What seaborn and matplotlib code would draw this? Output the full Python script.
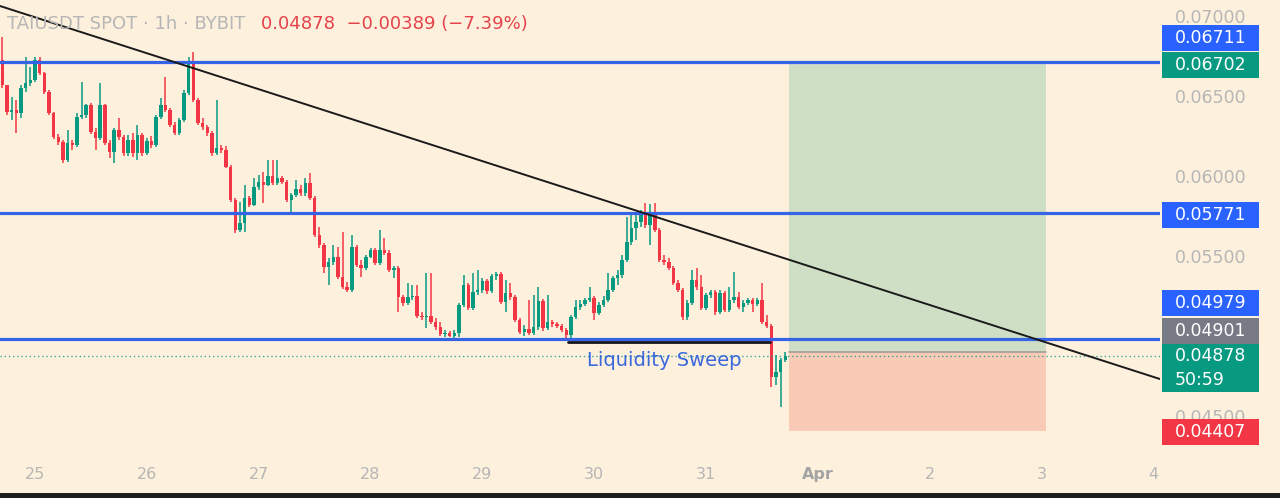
# Library Imports: numpy, pandas, matplotlib, seaborn
import numpy as np;
import pandas as pd;
import matplotlib;
matplotlib.use('Agg');
import matplotlib.pyplot as plt;
import seaborn as sns;
from matplotlib.patches import Rectangle;
# ////////////////////////////////////////////////////////////////////////////////////////////////

# ////////////////////////////////////////////////////////////////////////////////////////////////
# Data: TAIUSDT 1h candles. Hours are counted from Mar 25 00:00,
# first candle is Mar 24 17:00, open of each candle = close of the one before.
first_hour = -7;
first_open = 0.06725;

closes = [
    0.06569, 0.06400, 0.06412, 0.06394, 0.06550, 0.06581, 0.06600, 0.06725, 0.06644, 0.06525,
    0.06394, 0.06244, 0.06212, 0.06100, 0.06206, 0.06194, 0.06369, 0.06381, 0.06444, 0.06275,
    0.06238, 0.06444, 0.06206, 0.06150, 0.06288, 0.06244, 0.06144, 0.06225, 0.06144, 0.06256,
    0.06144, 0.06219, 0.06194, 0.06369, 0.06444, 0.06412, 0.06319, 0.06269, 0.06350, 0.06519,
    0.06712, 0.06475, 0.06331, 0.06306, 0.06269, 0.06144, 0.06175, 0.06162, 0.06056, 0.05850,
    0.05662, 0.05706, 0.05862, 0.05819, 0.05931, 0.05962, 0.05944, 0.06000, 0.05956, 0.05988,
    0.05962, 0.05850, 0.05881, 0.05919, 0.05894, 0.05956, 0.05862, 0.05631, 0.05569, 0.05431,
    0.05462, 0.05494, 0.05369, 0.05306, 0.05288, 0.05556, 0.05444, 0.05425, 0.05494, 0.05538,
    0.05456, 0.05538, 0.05519, 0.05412, 0.05425, 0.05244, 0.05206, 0.05244, 0.05250, 0.05125,
    0.05119, 0.05125, 0.05088, 0.05056, 0.05012, 0.05019, 0.05000, 0.05019, 0.05194, 0.05319,
    0.05175, 0.05275, 0.05288, 0.05344, 0.05281, 0.05375, 0.05388, 0.05212, 0.05269, 0.05244,
    0.05100, 0.05025, 0.05044, 0.05019, 0.05056, 0.05219, 0.05050, 0.05088, 0.05075, 0.05062,
    0.05038, 0.05006, 0.05119, 0.05181, 0.05200, 0.05225, 0.05238, 0.05144, 0.05194, 0.05225,
    0.05288, 0.05362, 0.05381, 0.05475, 0.05588, 0.05675, 0.05712, 0.05769, 0.05694, 0.05756,
    0.05662, 0.05475, 0.05462, 0.05425, 0.05331, 0.05288, 0.05119, 0.05206, 0.05350, 0.05306,
    0.05175, 0.05256, 0.05275, 0.05150, 0.05269, 0.05162, 0.05225, 0.05244, 0.05181, 0.05206,
    0.05225, 0.05200, 0.05225, 0.05088, 0.05062, 0.04744, 0.04775, 0.04850, 0.04878,
];

highs = [
    0.06869, 0.06569, 0.06494, 0.06475, 0.06569, 0.06744, 0.06681, 0.06744, 0.06744, 0.06650,
    0.06538, 0.06400, 0.06262, 0.06225, 0.06288, 0.06225, 0.06394, 0.06588, 0.06450, 0.06456,
    0.06300, 0.06581, 0.06450, 0.06225, 0.06300, 0.06362, 0.06256, 0.06256, 0.06269, 0.06319,
    0.06269, 0.06238, 0.06250, 0.06381, 0.06488, 0.06619, 0.06425, 0.06338, 0.06362, 0.06538,
    0.06744, 0.06775, 0.06488, 0.06362, 0.06319, 0.06281, 0.06475, 0.06194, 0.06188, 0.06069,
    0.05862, 0.05838, 0.05944, 0.05875, 0.05988, 0.06006, 0.06025, 0.06100, 0.06100, 0.06100,
    0.06000, 0.05975, 0.05894, 0.05975, 0.05944, 0.05988, 0.06019, 0.05875, 0.05681, 0.05581,
    0.05488, 0.05569, 0.05556, 0.05650, 0.05338, 0.05631, 0.05569, 0.05475, 0.05506, 0.05550,
    0.05550, 0.05662, 0.05612, 0.05538, 0.05438, 0.05438, 0.05256, 0.05331, 0.05319, 0.05319,
    0.05150, 0.05394, 0.05394, 0.05112, 0.05088, 0.05038, 0.05031, 0.05038, 0.05206, 0.05381,
    0.05331, 0.05394, 0.05412, 0.05362, 0.05356, 0.05388, 0.05400, 0.05400, 0.05350, 0.05331,
    0.05256, 0.05112, 0.05069, 0.05225, 0.05256, 0.05306, 0.05231, 0.05256, 0.05100, 0.05088,
    0.05075, 0.05050, 0.05131, 0.05225, 0.05225, 0.05238, 0.05306, 0.05250, 0.05212, 0.05250,
    0.05394, 0.05375, 0.05412, 0.05506, 0.05744, 0.05756, 0.05775, 0.05788, 0.05831, 0.05825,
    0.05831, 0.05675, 0.05506, 0.05488, 0.05438, 0.05350, 0.05300, 0.05225, 0.05412, 0.05425,
    0.05381, 0.05269, 0.05288, 0.05288, 0.05288, 0.05281, 0.05306, 0.05400, 0.05275, 0.05225,
    0.05238, 0.05238, 0.05238, 0.05331, 0.05131, 0.05075, 0.04881, 0.04862, 0.04900,
];

lows = [
    0.06550, 0.06381, 0.06350, 0.06269, 0.06362, 0.06525, 0.06562, 0.06588, 0.06631, 0.06512,
    0.06381, 0.06231, 0.06194, 0.06081, 0.06088, 0.06162, 0.06181, 0.06356, 0.06362, 0.06262,
    0.06162, 0.06225, 0.06194, 0.06112, 0.06081, 0.06225, 0.06125, 0.06125, 0.06119, 0.06100,
    0.06125, 0.06131, 0.06175, 0.06181, 0.06356, 0.06400, 0.06306, 0.06256, 0.06256, 0.06338,
    0.06506, 0.06462, 0.06319, 0.06288, 0.06250, 0.06125, 0.06131, 0.06144, 0.06050, 0.05838,
    0.05644, 0.05650, 0.05650, 0.05806, 0.05812, 0.05912, 0.05831, 0.05938, 0.05944, 0.05944,
    0.05950, 0.05838, 0.05775, 0.05869, 0.05875, 0.05875, 0.05850, 0.05619, 0.05550, 0.05394,
    0.05319, 0.05444, 0.05356, 0.05294, 0.05275, 0.05275, 0.05431, 0.05369, 0.05412, 0.05488,
    0.05444, 0.05444, 0.05506, 0.05400, 0.05362, 0.05150, 0.05188, 0.05194, 0.05225, 0.05112,
    0.05100, 0.05050, 0.05075, 0.05038, 0.05000, 0.04994, 0.04994, 0.04988, 0.04994, 0.05181,
    0.05162, 0.05162, 0.05256, 0.05269, 0.05262, 0.05269, 0.05350, 0.05200, 0.05150, 0.05225,
    0.05088, 0.05012, 0.05000, 0.05006, 0.05006, 0.05038, 0.05031, 0.05038, 0.05056, 0.05050,
    0.05025, 0.04988, 0.04988, 0.05106, 0.05162, 0.05188, 0.05212, 0.05100, 0.05131, 0.05181,
    0.05212, 0.05275, 0.05319, 0.05362, 0.05462, 0.05569, 0.05600, 0.05681, 0.05675, 0.05569,
    0.05650, 0.05462, 0.05444, 0.05412, 0.05319, 0.05275, 0.05100, 0.05100, 0.05194, 0.05288,
    0.05162, 0.05162, 0.05238, 0.05131, 0.05138, 0.05150, 0.05150, 0.05206, 0.05169, 0.05150,
    0.05194, 0.05150, 0.05188, 0.05075, 0.05050, 0.04681, 0.04694, 0.04556, 0.04838,
];

# x axis (hours from Mar 25 00:00) and price axis
day_ticks = [0, 24, 48, 72, 96, 120, 144, 168, 192, 216, 240];
day_labels = ['25', '26', '27', '28', '29', '30', '31', 'Apr', '2', '3', '4'];
price_ticks = [0.07000, 0.06500, 0.06000, 0.05500, 0.04500];

# drawings
levels = [0.06711, 0.05771, 0.04979];
last_price = 0.04878;
take_profit = 0.06702;
entry_price = 0.04901;
stop_loss = 0.04407;
box_hours = [161.8, 217.0];
trend_hours = [-7.5, 241.4];
trend_prices = [0.070625, 0.04731];
sweep_hours = [114.4, 157.7];
sweep_price = 0.049625;

# price scale labels on the right
label_texts = ['0.06711', '0.06702', '0.05771', '0.04979', '0.04901', '0.04407'];
label_kinds = ['blue', 'green', 'blue', 'blue', 'gray', 'red'];
label_centers = [0.068625, 0.066938, 0.05756, 0.052063, 0.050313, 0.044];
# ////////////////////////////////////////////////////////////////////////////////////////////////

# ////////////////////////////////////////////////////////////////////////////////////////////////
# Build the candle table
df = pd.DataFrame({'hour': first_hour + np.arange(len(closes)), 'close': closes, 'high': highs, 'low': lows});
df['open'] = [first_open] + closes[:-1];
df['high'] = df[['high', 'open', 'close']].max(axis=1);
df['low'] = df[['low', 'open', 'close']].min(axis=1);
df['up'] = df['close'] >= df['open'];
df['body_low'] = df[['open', 'close']].min(axis=1);
df['body_h'] = (df['close'] - df['open']).abs().clip(lower=0.00008);
# ////////////////////////////////////////////////////////////////////////////////////////////////

# ////////////////////////////////////////////////////////////////////////////////////////////////
# Colors
color_bg = '#fdf0dc';
color_up = '#089981';
color_down = '#f23645';
color_line_blue = '#3565e6';
color_gray_txt = '#b6b6b6';
color_red_txt = '#e5434c';
box_colors = {'blue': '#2962ff', 'green': '#089981', 'gray': '#787b86', 'red': '#f23645'};

sns.set_theme(style='white', rc={'axes.facecolor': color_bg, 'figure.facecolor': color_bg});
plt.rcParams['font.family'] = ['DejaVu Sans'];
# ////////////////////////////////////////////////////////////////////////////////////////////////

# ////////////////////////////////////////////////////////////////////////////////////////////////
# Main chart
fig = plt.figure(figsize=(12.8, 4.98), dpi=100);
ax = fig.add_axes([0, 42 / 498, 1160 / 1280, 456 / 498]);
ax.set_xlim(-7.5, 241.4);
ax.set_ylim(0.0425, 0.071);
for s in ax.spines.values():
    s.set_visible(False);

# long position box
ax.add_patch(Rectangle((box_hours[0], entry_price), box_hours[1] - box_hours[0], take_profit - entry_price,
                       facecolor='#cfdfc6', edgecolor='none', zorder=0));
ax.add_patch(Rectangle((box_hours[0], stop_loss), box_hours[1] - box_hours[0], entry_price - stop_loss,
                       facecolor='#f9cbb7', edgecolor='none', zorder=0));
ax.plot(box_hours, [entry_price, entry_price], color='#a39f98', lw=1.2, zorder=1);

# candles
colors = np.where(df['up'], color_up, color_down);
ax.vlines(df['hour'], df['low'], df['high'], colors=colors, lw=1.1, zorder=2);
ax.bar(df['hour'], df['body_h'], bottom=df['body_low'], width=0.74, color=colors, linewidth=0, zorder=2);

# horizontal levels
for lvl in levels:
    ax.axhline(lvl, color=color_line_blue, lw=2.3, zorder=3);
ax.axhline(last_price, color=color_up, lw=1.0, ls=(0, (1, 2)), alpha=0.8, zorder=3);
ax.plot(sweep_hours, [sweep_price, sweep_price], color='#15151f', lw=2.0, zorder=3);

# trend line
sns.lineplot(x=trend_hours, y=trend_prices, color='#1a1a1a', lw=1.4, ax=ax, zorder=4);

ax.text(118.5, 0.04845, 'Liquidity Sweep', color='#3a68dc', fontsize=14, ha='left', va='center', zorder=5);

# axes ticks
ax.set_xticks(day_ticks);
ax.set_xticklabels(day_labels);
ax.yaxis.tick_right();
ax.set_yticks(price_ticks);
ax.set_yticklabels([f'{p:.5f}' for p in price_ticks]);
ax.tick_params(axis='x', length=0, pad=8, labelsize=11.5, colors=color_gray_txt);
ax.tick_params(axis='y', length=0, pad=11, labelsize=12.5, colors=color_gray_txt);
apr = ax.get_xticklabels()[7];
apr.set_fontweight('bold');
apr.set_color('#a3a3a3');
ax.grid(False);
ax.set_xlabel('');
ax.set_ylabel('');
# ////////////////////////////////////////////////////////////////////////////////////////////////

# ////////////////////////////////////////////////////////////////////////////////////////////////
# Right price scale labels
rax = fig.add_axes([1160 / 1280, 42 / 498, 120 / 1280, 456 / 498]);
rax.set_xlim(0, 120);
rax.set_ylim(0.0425, 0.071);
rax.axis('off');
h = 26 / 16000;
for txt, kind, yc in zip(label_texts, label_kinds, label_centers):
    rax.add_patch(Rectangle((2, yc - h / 2), 97, h, facecolor=box_colors[kind], edgecolor='none'));
    rax.text(15, yc, txt, color='white', fontsize=12.5, ha='left', va='center');
h2 = 48 / 16000;
rax.add_patch(Rectangle((2, 0.048 - h2 / 2), 97, h2, facecolor=box_colors['green'], edgecolor='none'));
rax.text(15, 0.048 + 0.00072, f'{last_price:.5f}', color='white', fontsize=12.5, ha='left', va='center');
rax.text(15, 0.048 - 0.00072, '50:59', color='white', fontsize=12.5, ha='left', va='center');
# ////////////////////////////////////////////////////////////////////////////////////////////////

# ////////////////////////////////////////////////////////////////////////////////////////////////
# Header texts and bottom bar
fig.text(7 / 1280, 1 - 24 / 498, 'TAIUSDT SPOT · 1h · BYBIT', color=color_gray_txt, fontsize=13, va='center', ha='left');
fig.text(261 / 1280, 1 - 24 / 498, '0.04878  \u22120.00389 (\u22127.39%)', color=color_red_txt, fontsize=13, va='center', ha='left');
fig.add_artist(Rectangle((0, 0), 1, 5 / 498, transform=fig.transFigure, facecolor='#1e1e1e', edgecolor='none'));

fig.savefig('out.png', dpi=100, facecolor=color_bg);
# ////////////////////////////////////////////////////////////////////////////////////////////////
